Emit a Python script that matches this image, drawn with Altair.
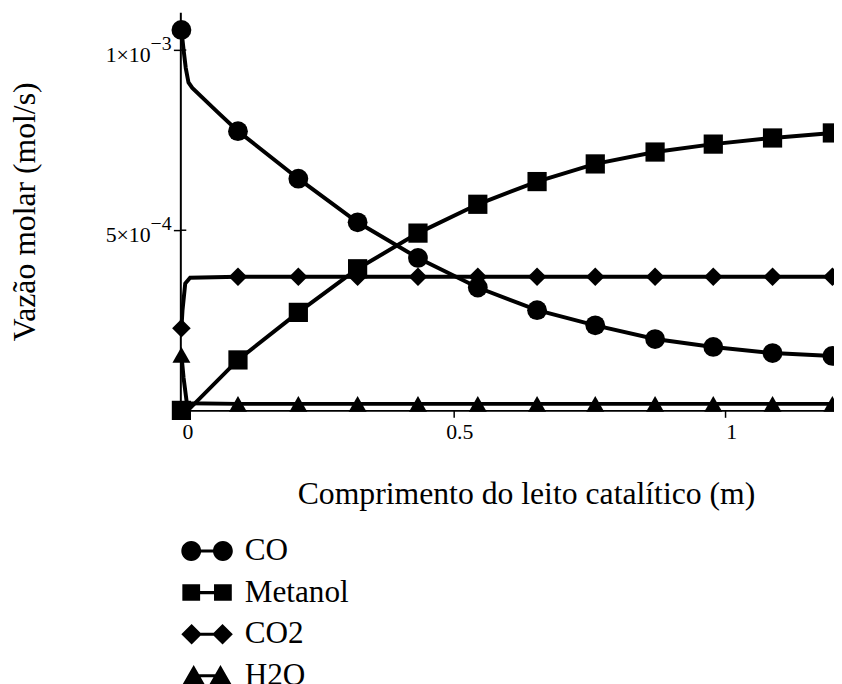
import altair as alt
import pandas as pd

# ---------------- data ----------------
series = ["CO", "Metanol", "CO2", "H2O"]

x_marc = [0.0, 0.104, 0.215, 0.324, 0.435, 0.545, 0.654, 0.761, 0.871, 0.978, 1.087, 1.197]
co_marc = [1.056e-3, 0.775e-3, 0.643e-3, 0.522e-3, 0.423e-3, 0.341e-3,
           0.278e-3, 0.236e-3, 0.198e-3, 0.176e-3, 0.159e-3, 0.151e-3]
met_marc = [0.0, 0.140e-3, 0.272e-3, 0.393e-3, 0.492e-3, 0.572e-3,
            0.635e-3, 0.684e-3, 0.717e-3, 0.739e-3, 0.756e-3, 0.770e-3]
co2_marc = [0.228e-3, 0.371e-3, 0.371e-3, 0.371e-3, 0.371e-3, 0.371e-3,
            0.371e-3, 0.371e-3, 0.371e-3, 0.371e-3, 0.371e-3, 0.371e-3]
h2o_marc = [0.154e-3, 0.018e-3, 0.018e-3, 0.018e-3, 0.018e-3, 0.018e-3,
            0.018e-3, 0.018e-3, 0.018e-3, 0.018e-3, 0.018e-3, 0.018e-3]

# extra curve points (sharp initial transients between markers)
co_kink_x = [0.004, 0.008, 0.013, 0.020, 0.067]
co_kink_v = [1.000e-3, 0.950e-3, 0.910e-3, 0.895e-3, 0.827e-3]
met_kink_x = [0.012]
met_kink_v = [0.0]
co2_kink_x = [0.002, 0.007, 0.016]
co2_kink_v = [0.278e-3, 0.352e-3, 0.368e-3]
h2o_kink_x = [0.004, 0.010]
h2o_kink_v = [0.090e-3, 0.020e-3]

x_ticks = [0, 0.5, 1]
x_tick_labels = ["0", "0.5", "1"]
y_ticks = [0, 5e-4, 1e-3]
y_label_values = [5e-4, 1e-3]
y_label_mantissa = ["5×10", "1×10"]
y_label_exponent = ["−4", "−3"]

x_title = "Comprimento do leito catalítico (m)"
y_title = "Vazão molar (mol/s)"

# ---------------- tables ----------------
marc_vals = {"CO": co_marc, "Metanol": met_marc, "CO2": co2_marc, "H2O": h2o_marc}
kinks = {"CO": (co_kink_x, co_kink_v), "Metanol": (met_kink_x, met_kink_v),
         "CO2": (co2_kink_x, co2_kink_v), "H2O": (h2o_kink_x, h2o_kink_v)}

marc_rows = []
line_rows = []
for s in series:
    for xv, yv in zip(x_marc, marc_vals[s]):
        marc_rows.append({"x": xv, "v": yv, "serie": s})
        line_rows.append({"x": xv, "v": yv, "serie": s})
    for xv, yv in zip(*kinks[s]):
        line_rows.append({"x": xv, "v": yv, "serie": s})
marc_df = pd.DataFrame(marc_rows)
line_df = pd.DataFrame(line_rows).sort_values(["serie", "x"])
ylab_df = pd.DataFrame({"v": y_label_values, "mant": y_label_mantissa,
                        "expo": y_label_exponent})

FONT = "Liberation Serif, Times New Roman, serif"

# legend symbols: two markers joined by a line (unit box -1..1)
bar = "M-0.6,-0.06 L0.6,-0.06 L0.6,0.06 L-0.6,0.06 Z"
leg_circle = ("M-1,0 A0.385,0.385 0 1,1 -0.23,0 A0.385,0.385 0 1,1 -1,0 Z "
              "M0.23,0 A0.385,0.385 0 1,1 1,0 A0.385,0.385 0 1,1 0.23,0 Z " + bar)
leg_square = ("M-0.96,-0.32 L-0.27,-0.32 L-0.27,0.32 L-0.96,0.32 Z "
              "M0.27,-0.32 L0.96,-0.32 L0.96,0.32 L0.27,0.32 Z " + bar)
leg_diamond = ("M-1,0 L-0.6,-0.4 L-0.2,0 L-0.6,0.4 Z "
               "M0.2,0 L0.6,-0.4 L1,0 L0.6,0.4 Z " + bar)
leg_triangle = ("M-0.52,-0.42 L-0.04,0.42 L-1,0.42 Z "
                "M0.52,-0.42 L1,0.42 L0.04,0.42 Z " + bar)
legend_paths = [leg_circle, leg_square, leg_diamond, leg_triangle]

x_scale = alt.Scale(domain=[-0.002, 1.2], nice=False, zero=False)
y_scale = alt.Scale(domain=[0, 1.105e-3], nice=False, zero=False)

x_label_expr = (f"{x_tick_labels}"
                f"[indexof({x_ticks}, datum.value)]")

x_axis = alt.Axis(values=x_ticks, title=x_title, labelExpr=x_label_expr,
                  labelOffset=6, labelPadding=4,
                  titleX=118, titleY=94, titleAlign="left", titleBaseline="alphabetic")
y_axis = alt.Axis(values=y_ticks, title=y_title, labels=False,
                  titleX=-147, titleY=201, titleAngle=270,
                  titleAlign="center", titleBaseline="alphabetic")


def X():
    return alt.X("x:Q", scale=x_scale, axis=x_axis)


def Y():
    return alt.Y("v:Q", scale=y_scale, axis=y_axis)


lines = alt.Chart(line_df).mark_line(color="black", strokeWidth=4).encode(
    x=X(), y=Y(), detail="serie:N", order="x:Q")

markers = alt.Chart(marc_df).mark_point(filled=True, color="black", opacity=1).encode(
    x=X(), y=Y(),
    shape=alt.Shape("serie:N", scale=alt.Scale(domain=series,
                    range=["circle", "square", "diamond", "triangle-up"]), legend=None),
    size=alt.Size("serie:N", scale=alt.Scale(domain=series, range=[400, 330, 450, 440]),
                  legend=None),
)

legend_layer = alt.Chart(marc_df).mark_point(filled=True, color="black", opacity=0).encode(
    x=X(), y=Y(),
    shape=alt.Shape("serie:N", scale=alt.Scale(domain=series, range=legend_paths),
                    legend=alt.Legend(title=None, orient="none", legendX=1, legendY=518,
                                      symbolSize=2704, symbolFillColor="black",
                                      symbolStrokeColor="black", symbolStrokeWidth=0,
                                      symbolOpacity=1, labelOffset=12, rowPadding=0,
                                      padding=0, labelLimit=0)),
)

# inward half of the crossing y ticks
inner_ticks = alt.Chart(ylab_df).mark_rule(color="black", strokeWidth=1.5).encode(
    y=Y(), x=alt.value(0), x2=alt.value(6))

# y tick labels: mantissa and raised exponent
ylab_mant = alt.Chart(ylab_df).mark_text(
    font=FONT, fontSize=22, color="black", align="right", baseline="alphabetic", dy=12
).encode(y=Y(), x=alt.value(-30), text="mant:N")
ylab_expo = alt.Chart(ylab_df).mark_text(
    font=FONT, fontSize=20, color="black", align="left", baseline="alphabetic", dy=0
).encode(y=Y(), x=alt.value(-30), text="expo:N")

chart = alt.layer(lines, markers, legend_layer, inner_ticks, ylab_mant, ylab_expo).resolve_scale(
    shape="independent"
).properties(
    width=660, height=402,
    padding={"left": 174, "top": 1, "right": 0, "bottom": 273},
    autosize=alt.AutoSizeParams(type="none"),
    background="white",
).configure(
    font=FONT
).configure_axis(
    grid=False, domainColor="black", domainWidth=2, tickColor="black", tickWidth=1.5,
    tickSize=7, labelFont=FONT, labelFontSize=22, labelColor="black",
    labelFlush=False, labelOverlap=False,
    titleFont=FONT, titleFontSize=32, titleFontWeight="normal", titleColor="black",
).configure_legend(
    labelFont=FONT, labelFontSize=31.5, labelColor="black",
).configure_view(stroke=None)

chart.save("out.html", embed_options={"renderer": "svg", "actions": False})
